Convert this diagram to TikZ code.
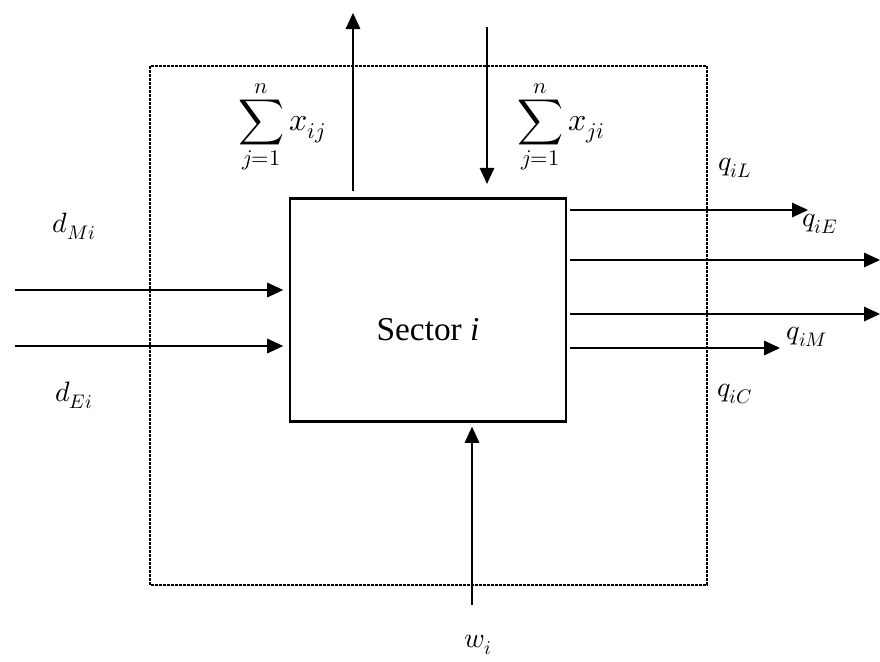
\documentclass[tikz,border=0pt]{standalone}
\usepackage{amsmath}
\usepackage{fontspec}
\usepackage{unicode-math}
\setmathfont{Latin Modern Math}
\usetikzlibrary{arrows.meta, positioning}
\newfontfamily\sectorfont{Liberation Serif}

\begin{document}
\begin{tikzpicture}[x=0.75pt, y=-0.75pt,
    flow/.style={-{Triangle[length=12pt, width=11pt]}, line width=0.8pt},
    sectorbox/.style={draw, line width=2.2pt, minimum width=207pt, minimum height=167pt, inner sep=0pt},
    boundary/.style={line width=1.5pt, dash pattern=on 2pt off 1pt},
    lbl/.style={font=\fontsize{21}{24}\selectfont, inner sep=0pt},
    sumlbl/.style={font=\fontsize{24}{28}\selectfont, inner sep=0pt}]
    \useasboundingbox (0,0) rectangle (880,661);
    % system boundary
    \draw[boundary] (150,66) rectangle (707,585);
    % the sector
    \node[sectorbox, font=\sectorfont\fontsize{25}{30}\selectfont, text height=45pt, text depth=0pt]
      (sector) at (428,310) {Sector \textit{i}};
    % intermediate flows, out and in
    \coordinate (xout) at (353,13);
    \coordinate (xin) at (487,27);
    \draw[flow, shorten <=5pt] (sector.north -| xout) -- (xout);
    \draw[flow, shorten >=10pt] (xin) -- (xin |- sector.north);
    \node[sumlbl] (sumout) at (282,127) {$\displaystyle\sum_{j=1}^{n} x_{ij}$};
    \node[sumlbl] (sumin) at (561,127) {$\displaystyle\sum_{j=1}^{n} x_{ji}$};
    % demand from the left
    \coordinate (dm) at (15,290);
    \coordinate (de) at (15,346);
    \foreach \e in {dm,de}
      \draw[flow, shorten >=4pt] (\e) -- (\e -| sector.west);
    \node[lbl] (dmi) at (74,226) {$d_{Mi}$};
    \node[lbl] (dei) at (74,395) {$d_{Ei}$};
    % outputs to the right
    \coordinate (ql) at (808,210);
    \coordinate (qe) at (880,260);
    \coordinate (qm) at (880,314);
    \coordinate (qc) at (780,348);
    \foreach \e in {ql,qe,qm,qc}
      \draw[flow, shorten <=2pt] (sector.east |- \e) -- (\e);
    \node[lbl] (qil) at (735,168) {$q_{iL}$};
    \node[lbl] (qie) at (820,224) {$q_{iE}$};
    \node[lbl] (qim) at (807,337) {$q_{iM}$};
    \node[lbl] (qic) at (735,394) {$q_{iC}$};
    % wages from below
    \coordinate (wb) at (472,605);
    \draw[flow, shorten >=3pt] (wb) -- (wb |- sector.south);
    \node[lbl] (wi) at (478,645) {$w_i$};
\end{tikzpicture}
\end{document}
